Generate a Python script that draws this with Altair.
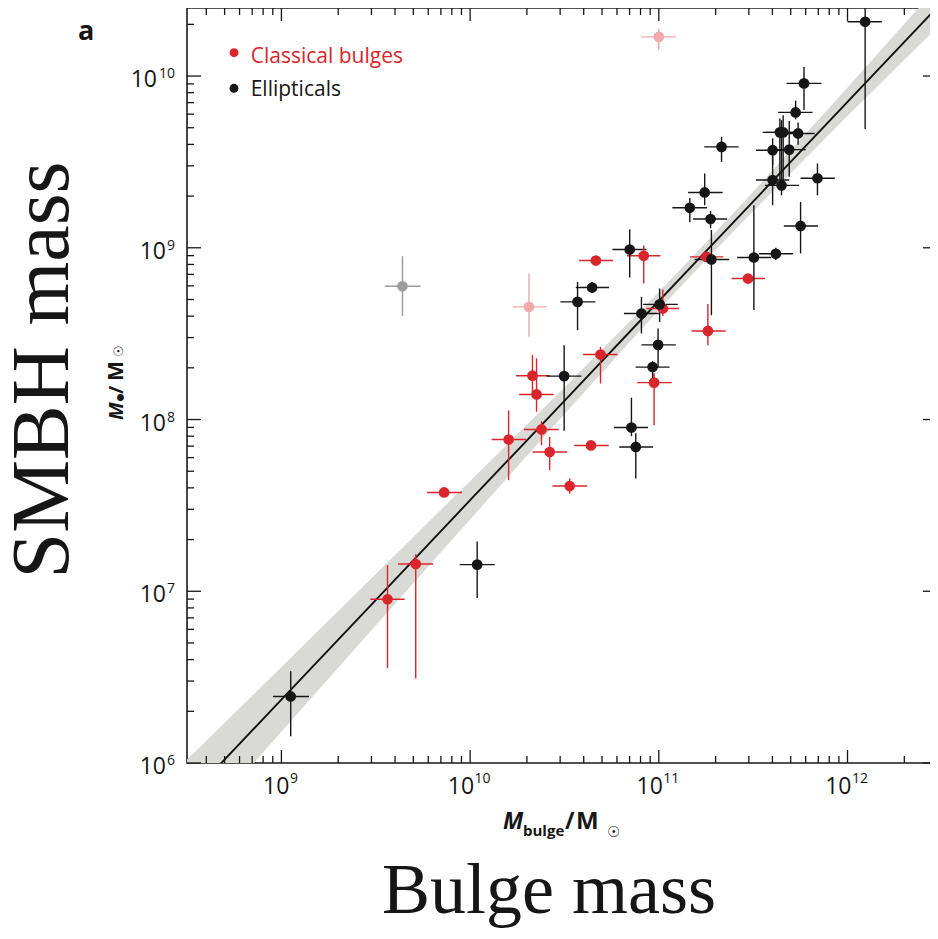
import altair as alt
import pandas as pd

RED = "#d9252b"
BLACK = "#161616"
PINK = "#f2a9aa"
GRAY = "#9c9c9c"
BAND = "#d9d9d5"

# ---- data ----
# Classical bulges
cb_x   = [3.65e9, 5.15e9, 7.28e9, 1.60e10, 2.14e10, 2.25e10, 2.39e10, 2.64e10, 3.37e10, 4.37e10,
          4.91e10, 4.64e10, 8.32e10, 1.05e11, 9.44e10, 1.82e11, 1.79e11, 2.97e11]
cb_xlo = [2.96e9, 4.15e9, 5.92e9, 1.30e10, 1.75e10, 1.82e10, 1.93e10, 2.14e10, 2.73e10, 3.56e10,
          3.97e10, 3.78e10, 6.79e10, 8.60e10, 7.67e10, 1.49e11, 1.46e11, 2.43e11]
cb_xhi = [4.50e9, 6.37e9, 9.06e9, 1.99e10, 2.64e10, 2.77e10, 2.95e10, 3.27e10, 4.17e10, 5.43e10,
          6.04e10, 5.73e10, 1.02e11, 1.28e11, 1.17e11, 2.26e11, 2.20e11, 3.65e11]
cb_y   = [8.98e6, 1.44e7, 3.76e7, 7.65e7, 1.80e8, 1.40e8, 8.75e7, 6.47e7, 4.10e7, 7.06e7,
          2.39e8, 8.43e8, 8.98e8, 4.43e8, 1.64e8, 3.28e8, 8.85e8, 6.62e8]
cb_ylo = [3.57e6, 3.10e6, 3.76e7, 4.43e7, 1.39e8, 1.11e8, 7.08e7, 5.07e7, 3.70e7, 7.06e7,
          1.62e8, 8.43e8, 6.19e8, 4.00e8, 9.27e7, 2.71e8, 8.85e8, 6.62e8]
cb_yhi = [1.42e7, 1.64e7, 3.76e7, 1.13e8, 2.37e8, 2.27e8, 9.77e7, 7.92e7, 4.55e7, 7.06e7,
          2.65e8, 8.43e8, 1.03e9, 5.71e8, 1.86e8, 4.70e8, 8.85e8, 6.62e8]

# Ellipticals
el_x   = [1.12e9, 1.09e10, 3.15e10, 7.16e10, 7.55e10, 9.27e10, 9.91e10, 8.09e10, 1.01e11, 3.71e10,
          4.43e10, 7.01e10, 1.90e11, 3.19e11, 4.17e11, 5.64e11, 1.88e11, 1.46e11, 1.75e11, 2.15e11,
          4.01e11, 4.47e11, 6.93e11, 4.01e11, 4.91e11, 4.38e11, 4.56e11, 5.47e11, 5.31e11, 5.88e11,
          1.24e12]
el_xlo = [9.02e8, 8.81e9, 2.54e10, 5.79e10, 6.17e10, 7.53e10, 8.09e10, 6.53e10, 8.26e10, 3.01e10,
          3.63e10, 5.68e10, 1.55e11, 2.60e11, 3.40e11, 4.60e11, 1.52e11, 1.18e11, 1.43e11, 1.74e11,
          3.27e11, 3.65e11, 5.64e11, 3.27e11, 4.01e11, 3.55e11, 3.69e11, 4.47e11, 4.29e11, 4.75e11,
          1.00e12]
el_xhi = [1.40e9, 1.35e10, 3.89e10, 8.77e10, 9.33e10, 1.14e11, 1.23e11, 1.00e11, 1.26e11, 4.62e10,
          5.45e10, 8.60e10, 2.36e11, 3.95e11, 5.15e11, 6.98e11, 2.30e11, 1.80e11, 2.18e11, 2.65e11,
          4.91e11, 5.54e11, 8.57e11, 4.91e11, 6.01e11, 5.33e11, 5.60e11, 6.71e11, 6.53e11, 7.28e11,
          1.52e12]
el_y   = [2.44e6, 1.43e7, 1.79e8, 8.98e7, 6.92e7, 2.02e8, 2.72e8, 4.14e8, 4.68e8, 4.84e8,
          5.87e8, 9.77e8, 8.55e8, 8.77e8, 9.23e8, 1.34e9, 1.47e9, 1.71e9, 2.10e9, 3.87e9,
          2.48e9, 2.31e9, 2.54e9, 3.70e9, 3.73e9, 4.70e9, 4.70e9, 4.63e9, 6.14e9, 9.06e9,
          2.07e10]
el_ylo = [1.43e6, 9.14e6, 8.59e7, 8.00e7, 4.53e7, 1.62e8, 2.02e8, 3.17e8, 3.70e8, 3.31e8,
          5.45e8, 6.71e8, 4.05e8, 4.34e8, 8.50e8, 9.27e8, 1.30e9, 1.41e9, 1.77e9, 3.16e9,
          1.77e9, 2.02e9, 2.02e9, 3.03e9, 2.59e9, 2.48e9, 2.31e9, 3.98e9, 5.60e9, 6.34e9,
          4.92e9]
el_yhi = [3.42e6, 1.95e7, 2.71e8, 1.34e8, 8.32e7, 2.19e8, 3.39e8, 5.18e8, 5.79e8, 6.33e8,
          6.30e8, 1.28e9, 1.27e9, 1.77e9, 1.00e9, 1.85e9, 1.64e9, 1.95e9, 2.71e9, 4.43e9,
          3.46e9, 5.53e9, 3.10e9, 4.34e9, 5.48e9, 5.66e9, 5.92e9, 5.37e9, 7.20e9, 1.13e10,
          2.49e10]

# faded classical bulges (pink) and the grey outlier
pk_x, pk_xlo, pk_xhi = [2.05e10, 1.00e11], [1.68e10, 8.09e10], [2.54e10, 1.23e11]
pk_y, pk_ylo, pk_yhi = [4.53e8, 1.69e10], [3.03e8, 1.42e10], [7.08e8, 1.89e10]
gr_x, gr_xlo, gr_xhi = [4.38e9], [3.53e9], [5.46e9]
gr_y, gr_ylo, gr_yhi = [5.97e8], [4.00e8], [8.93e8]

# fit line and its band
fit_x  = [3.0e8, 1.0e9, 3.0e9, 1.0e10, 3.0e10, 1.0e11, 1.585e11, 3.0e11, 1.0e12, 3.0e12]
fit_y  = [5.79e5, 2.34e6, 8.37e6, 3.39e7, 1.21e8, 4.90e8, 8.36e8, 1.75e9, 7.08e9, 2.53e10]
band_lo = [3.40e5, 1.52e6, 5.92e6, 2.62e7, 1.01e8, 4.34e8, 7.45e8, 1.54e9, 5.85e9, 1.93e10]
band_hi = [9.89e5, 3.62e6, 1.19e7, 4.38e7, 1.45e8, 5.53e8, 9.38e8, 1.99e9, 8.57e9, 3.31e10]

# axes
x_dom = [3.16e8, 2.98e12]
y_dom = [1.0e6, 2.49e10]
x_major = [1e9, 1e10, 1e11, 1e12]
x_exp = ["9", "10", "11", "12"]
y_major = [1e6, 1e7, 1e8, 1e9, 1e10]
y_exp = ["6", "7", "8", "9", "10"]
mantissas = [2, 3, 4, 5, 6, 7, 8, 9]
x_decades = [1e8, 1e9, 1e10, 1e11, 1e12]
y_decades = [1e6, 1e7, 1e8, 1e9, 1e10]

W, H = 750, 755

x_minor = [m * d for d in x_decades for m in mantissas if x_dom[0] <= m * d <= x_dom[1]]
y_minor = [m * d for d in y_decades for m in mantissas if y_dom[0] <= m * d <= y_dom[1]]

xs = alt.Scale(type="log", domain=x_dom, nice=False)
ys = alt.Scale(type="log", domain=y_dom, nice=False)


def group_df(name, x, xlo, xhi, y, ylo, yhi):
    return pd.DataFrame({"x": x, "xlo": xlo, "xhi": xhi, "y": y, "ylo": ylo, "yhi": yhi, "grp": name})


pts = pd.concat([
    group_df("pink", pk_x, pk_xlo, pk_xhi, pk_y, pk_ylo, pk_yhi),
    group_df("gray", gr_x, gr_xlo, gr_xhi, gr_y, gr_ylo, gr_yhi),
    group_df("cb", cb_x, cb_xlo, cb_xhi, cb_y, cb_ylo, cb_yhi),
    group_df("ell", el_x, el_xlo, el_xhi, el_y, el_ylo, el_yhi),
], ignore_index=True)

col = alt.Color("grp:N", scale=alt.Scale(domain=["cb", "ell", "pink", "gray"],
                                         range=[RED, BLACK, PINK, GRAY]), legend=None)

band_df = pd.DataFrame({"x": fit_x, "fit": fit_y, "lo": band_lo, "hi": band_hi})

band = alt.Chart(band_df).mark_area(color=BAND, clip=True).encode(
    x=alt.X("x:Q", scale=xs, axis=None),
    y=alt.Y("lo:Q", scale=ys, axis=None),
    y2="hi:Q")
line = alt.Chart(band_df).mark_line(color="#111111", strokeWidth=1.9, clip=True).encode(
    x=alt.X("x:Q", scale=xs, axis=None),
    y=alt.Y("fit:Q", scale=ys, axis=None))

xbars = alt.Chart(pts).mark_rule(strokeWidth=1.4, clip=True).encode(
    x=alt.X("xlo:Q", scale=xs, axis=None), x2="xhi:Q",
    y=alt.Y("y:Q", scale=ys, axis=None), color=col)
ybars = alt.Chart(pts).mark_rule(strokeWidth=1.4, clip=True).encode(
    x=alt.X("x:Q", scale=xs, axis=None),
    y=alt.Y("ylo:Q", scale=ys, axis=None), y2="yhi:Q", color=col)
dots = alt.Chart(pts).mark_circle(size=115, opacity=1).encode(
    x=alt.X("x:Q", scale=xs, axis=None),
    y=alt.Y("y:Q", scale=ys, axis=None), color=col)

# ---- ticks (inward on all four sides) ----
tick_layers = []
for vals, ln in [(x_major, 13), (x_minor, 7)]:
    d = pd.DataFrame({"v": vals})
    tick_layers.append(alt.Chart(d).mark_rule(color=BLACK, strokeWidth=1.3).encode(
        x=alt.X("v:Q", scale=xs, axis=None), y=alt.value(H), y2=alt.value(H - ln)))
    tick_layers.append(alt.Chart(d).mark_rule(color=BLACK, strokeWidth=1.3).encode(
        x=alt.X("v:Q", scale=xs, axis=None), y=alt.value(0), y2=alt.value(ln)))
for vals, ln in [(y_major, 14), (y_minor, 7)]:
    d = pd.DataFrame({"v": vals})
    tick_layers.append(alt.Chart(d).mark_rule(color=BLACK, strokeWidth=1.3).encode(
        y=alt.Y("v:Q", scale=ys, axis=None), x=alt.value(0), x2=alt.value(ln)))
    tick_layers.append(alt.Chart(d).mark_rule(color=BLACK, strokeWidth=1.3).encode(
        y=alt.Y("v:Q", scale=ys, axis=None), x=alt.value(W), x2=alt.value(W - ln)))

# ---- tick labels ----
LF = "Open Sans"
xl = pd.DataFrame({"v": x_major, "e": x_exp, "b": ["10"] * len(x_major)})
xl["n"] = xl["e"].str.len()
yl = pd.DataFrame({"v": y_major, "e": y_exp, "b": ["10"] * len(y_major)})
yl["n"] = yl["e"].str.len()

label_layers = []
for n, shift in [(1, 8), (2, 4)]:
    label_layers.append(alt.Chart(xl).transform_filter(alt.datum.n == n).mark_text(
        font=LF, fontSize=23, align="right", baseline="alphabetic", dx=shift, color=BLACK).encode(
        x=alt.X("v:Q", scale=xs, axis=None), y=alt.value(H + 31), text="b:N"))
    label_layers.append(alt.Chart(xl).transform_filter(alt.datum.n == n).mark_text(
        font=LF, fontSize=14, align="left", baseline="alphabetic", dx=shift + 0.5, color=BLACK).encode(
        x=alt.X("v:Q", scale=xs, axis=None), y=alt.value(H + 20), text="e:N"))
for n, w in [(1, 9), (2, 18)]:
    label_layers.append(alt.Chart(yl).transform_filter(alt.datum.n == n).mark_text(
        font=LF, fontSize=23, align="right", baseline="alphabetic", dy=11, color=BLACK).encode(
        y=alt.Y("v:Q", scale=ys, axis=None), x=alt.value(-12 - w), text="b:N"))
label_layers.append(alt.Chart(yl).mark_text(
    font=LF, fontSize=14, align="right", baseline="alphabetic", dy=2, color=BLACK).encode(
    y=alt.Y("v:Q", scale=ys, axis=None), x=alt.value(-12), text="e:N"))


def txt(s, x, y, size, color=BLACK, font=LF, weight="normal", style="normal", align="left", angle=0):
    kw = dict(font=font, fontSize=size, fontWeight=weight, fontStyle=style, align=align,
              baseline="alphabetic", color=color)
    if angle:
        kw["angle"] = angle
    return alt.Chart(pd.DataFrame({"t": [s]})).mark_text(**kw).encode(
        x=alt.value(x), y=alt.value(y), text="t:N")


SUN_FONT = "DejaVu Sans"
extras = [
    # panel letter
    txt("a", -109, 32, 27, weight="bold"),
    # legend
    alt.Chart(pd.DataFrame({"t": ["r"]})).mark_circle(size=80, opacity=1, color=RED).encode(
        x=alt.value(47), y=alt.value(44.7)),
    alt.Chart(pd.DataFrame({"t": ["k"]})).mark_circle(size=80, opacity=1, color=BLACK).encode(
        x=alt.value(47), y=alt.value(80.3)),
    txt("Classical bulges", 63.7, 54.5, 21, color=RED),
    txt("Ellipticals", 63.7, 87.5, 21),
    # x axis title: M_bulge / M_sun
    txt("M", 316, 821, 23, weight="bold", style="italic"),
    txt("bulge", 336, 828, 15, weight="bold"),
    txt("/", 378, 821, 23, weight="bold"),
    txt("M", 389, 821, 24, weight="bold"),
    txt("\u2609", 420, 829, 15, font=SUN_FONT),
    # y axis title (rotated): M_bh / M_sun
    txt("M", -63.7, 412, 20, weight="bold", style="italic", angle=270),
    txt("\u2022", -59, 396, 20, font="DejaVu Sans", weight="bold", angle=270),
    txt("/", -63.7, 386, 20, weight="bold", angle=270),
    txt("M", -63.7, 373, 21, weight="bold", angle=270),
    txt("\u2609", -64.5, 349, 13, font=SUN_FONT, angle=270),
    # big annotation titles
    txt("SMBH mass", -119, 362, 82, font="Liberation Serif", align="center", angle=270),
    txt("Bulge mass", 362, 905, 72, font="Liberation Serif", align="center"),
]

chart = alt.layer(
    band, line, xbars, ybars, dots, *tick_layers, *label_layers, *extras
).properties(
    width=W, height=H,
    autosize=alt.AutoSizeParams(type="none"),
    padding={"left": 179, "top": 0, "right": -7, "bottom": 165},
).configure_view(stroke="#1a1a1a", strokeWidth=1.6)

chart.save("out.html", embed_options={"renderer": "svg", "actions": False})
